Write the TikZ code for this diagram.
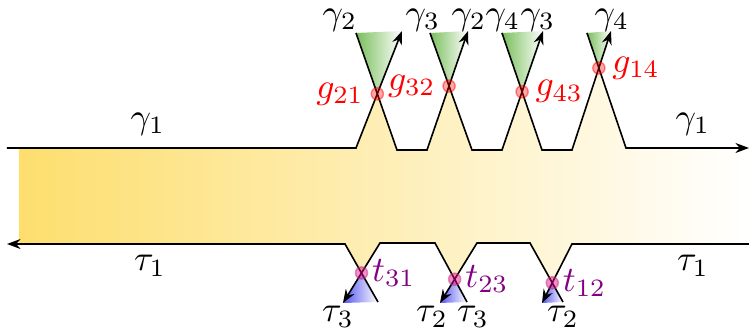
\documentclass[tikz,border=0pt]{standalone}
\usepackage{amsmath,amssymb}
\usetikzlibrary{arrows.meta,calc}
\definecolor{ylwCol}{RGB}{253,222,110}
\definecolor{grnCol}{RGB}{120,190,90}
\definecolor{bluCol}{RGB}{85,85,240}
\definecolor{tCol}{RGB}{130,0,130}
\tikzset{
  flow/.style={-{Stealth[length=3.8pt,width=2.8pt]},line width=0.45pt},
  gdot/.style={fill=red,fill opacity=.35,draw=red,draw opacity=.45},
  tdot/.style={fill=magenta,fill opacity=.45,draw=magenta!70!black,draw opacity=.5},
  glab/.style={text=red,inner sep=3.6pt},
  tlab/.style={text=tCol,inner sep=2.8pt},
  mlab/.style={inner sep=0.5pt},
}

\begin{document}
\begin{tikzpicture}[x=0.28pt,y=-0.28pt]
    \useasboundingbox (0,0) rectangle (749,331);
    % ends of the two long wires
    \coordinate (inL) at (7,148);   \coordinate (inR) at (749,148);
    \coordinate (outL) at (7,244);  \coordinate (outR) at (749,244);
    % top crossings: start, left foot, right foot, tip
    \foreach \i/\sx/\bl/\br/\tx in {1/356/356/397/402,2/430/427/472/468,3/502/502/542/543,4/587/572/626/611} {
       \coordinate (s\i) at (\sx,33);
       \coordinate (bl\i) at (\bl,150);
       \coordinate (br\i) at (\br,150);
       \coordinate (tip\i) at (\tx,31);
    }
    \coordinate (bl1) at (356,148);  \coordinate (br4) at (626,148);
    \foreach \i in {1,...,4}
       \coordinate (g\i) at (intersection cs: first line={(bl\i)--(tip\i)}, second line={(s\i)--(br\i)});
    % bottom crossings: left top, right top, tip, start
    \foreach \i/\tl/\tr/\dx/\sx in {1/345/380/343/378,2/435/477/440/467,3/530/572/542/563} {
       \coordinate (tl\i) at (\tl,243);
       \coordinate (tr\i) at (\tr,243);
       \coordinate (dn\i) at (\dx,303);
       \coordinate (st\i) at (\sx,302);
    }
    \coordinate (tl1) at (345,244);  \coordinate (tr3) at (572,244);
    \foreach \i in {1,2,3}
       \coordinate (t\i) at (intersection cs: first line={(tr\i)--(dn\i)}, second line={(st\i)--(tl\i)});

    % fills
    \shade[left color=ylwCol,right color=white]
       (19,148) -- (bl1) -- (g1) -- (br1) -- (bl2) -- (g2) -- (br2) -- (bl3) -- (g3)
       -- (br3) -- (bl4) -- (g4) -- (br4) -- (749,148) -- (749,244) -- (tr3) -- (t3)
       -- (tl3) -- (tr2) -- (t2) -- (tl2) -- (tr1) -- (t1) -- (tl1) -- (19,244) -- cycle;
    \foreach \i in {1,...,4}
       \shade[left color=grnCol,right color=white] (s\i) -- (g\i) -- (tip\i) -- cycle;
    \foreach \i in {1,2,3}
       \shade[left color=bluCol,right color=white] (dn\i) -- (t\i) -- (st\i) -- cycle;

    % top wires
    \draw[flow] (inL) -- (bl1) -- (tip1);
    \draw[flow] (s1) -- (br1) -- (bl2) -- (tip2);
    \draw[flow] (s2) -- (br2) -- (bl3) -- (tip3);
    \draw[flow] (s3) -- (br3) -- (bl4) -- (tip4);
    \draw[flow] (s4) -- (br4) -- (inR);
    % bottom wires
    \draw[flow] (outR) -- (tr3) -- (dn3);
    \draw[flow] (st3) -- (tl3) -- (tr2) -- (dn2);
    \draw[flow] (st2) -- (tl2) -- (tr1) -- (dn1);
    \draw[flow] (st1) -- (tl1) -- (outL);

    % scattering points
    \foreach \i in {1,...,4} \filldraw[gdot] (g\i) circle (1.7pt);
    \foreach \i in {1,2,3} \filldraw[tdot] (t\i) circle (1.7pt);
    \node[glab,anchor=east] (lg1) at (g1) {$g_{21}$};
    \node[glab,anchor=east] (lg2) at (g2) {$g_{32}$};
    \node[glab,anchor=west] (lg3) at (g3) {$g_{43}$};
    \node[glab,anchor=west] (lg4) at (g4) {$g_{14}$};
    \node[tlab,anchor=west] (lt1) at (t1) {$t_{31}$};
    \node[tlab,anchor=west] (lt2) at (t2) {$t_{23}$};
    \node[tlab,anchor=west] (lt3) at (t3) {$t_{12}$};

    % mode labels
    \foreach \n/\x/\t in {a/340/2,b/423/3,c/469/2,d/503/4,e/538/3,f/612/4}
       \node[mlab] (gm\n) at (\x,20) {$\gamma_{\t}$};
    \foreach \n/\x/\t in {a/338/3,b/432/2,c/473/3,d/563/2}
       \node[mlab] (tm\n) at (\x,317) {$\tau_{\t}$};
    \node[mlab] (gmL) at (148,124) {$\gamma_1$};
    \node[mlab] (gmR) at (693,124) {$\gamma_1$};
    \node[mlab] (tmL) at (150,266) {$\tau_1$};
    \node[mlab] (tmR) at (693,266) {$\tau_1$};
  \end{tikzpicture}
\end{document}
